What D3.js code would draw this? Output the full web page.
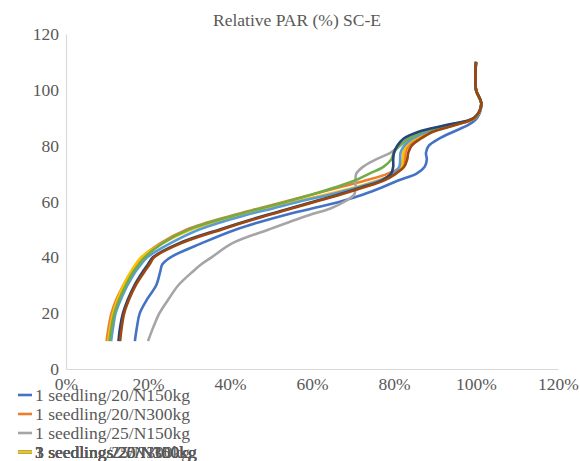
<!DOCTYPE html>
<html>
<head>
<meta charset="utf-8">
<script src="https://cdn.jsdelivr.net/npm/d3@7"></script>
<style>
  body { margin: 0; background: #fff; }
  svg text { font-family: "Liberation Serif", "DejaVu Serif", serif; fill: #595959; }
</style>
</head>
<body>
<div id="chart"></div>
<script>
// depth levels (y) shared by all series
var levels = [10, 15, 20, 25, 30, 35, 37.5, 40, 45, 50, 55, 57.5, 60, 62.5, 65, 67.5, 70, 72.5, 75, 77.5, 80, 82.5, 85, 87.5, 90, 95, 100, 110];

// relative PAR (%) for each series at those levels
var s1_20_150 = [16.8, 17.3, 18, 19.8, 22, 23, 23.5, 25.5, 33, 41.5, 53, 60, 67, 72.5, 77, 81, 85.5, 87.5, 88, 87.8, 88.5, 91, 94.5, 98.2, 100.3, 101.3, 100, 100];
var s1_20_300 = [9.9, 10.4, 11.1, 12.3, 14, 16, 17.2, 18.5, 23, 29.5, 40.5, 47, 53.5, 60, 66.5, 73, 78.5, 81.8, 82.6, 82.8, 83.5, 85.5, 89, 95, 99.8, 101.3, 100, 100];
var s1_25_150 = [20, 21.3, 22.8, 25, 27.4, 31, 33, 35.5, 40.5, 49.5, 59, 64.5, 68, 70.3, 70.6, 70.6, 70.8, 72.5, 75.5, 79.2, 81.5, 84, 88, 94.5, 99.8, 101.3, 100, 100];
var s1_25_300 = [10.3, 10.8, 11.5, 12.6, 14, 15.9, 17, 18.3, 23.5, 30.5, 42, 49, 56, 63.5, 70.5, 76, 80, 81.8, 82.1, 82.3, 83, 85, 88.5, 94.5, 99.8, 101.3, 100, 100];
var s3_20_150 = [11, 11.5, 12.1, 13.4, 15, 17, 18.3, 19.8, 25.4, 32.5, 43.5, 50.5, 57, 64.5, 71, 76.5, 80, 81.3, 81.5, 81.6, 82.5, 84.5, 88, 94, 99.7, 101.3, 100, 100];
var s3_20_300 = [10.6, 11.1, 11.8, 13, 14.6, 16.5, 17.8, 19.2, 23.5, 30, 41, 47.5, 54, 60, 65.5, 70.5, 74, 77.5, 79.3, 80, 81.3, 83.5, 87, 93.5, 99.7, 101.3, 100, 100];
var s3_25_150 = [12.8, 13.2, 13.9, 15.1, 16.7, 18.8, 20, 21.2, 27.5, 37.5, 48.5, 54.5, 60.5, 66.5, 72, 77, 79.3, 79.8, 79.8, 80, 80.8, 82.3, 86, 93, 99.5, 101.3, 100, 100];
var s3_25_300 = [13.2, 13.6, 14.2, 15.4, 17, 19.2, 20.4, 21.5, 28, 38, 49, 55, 61, 67, 72.5, 77.5, 80.5, 82.5, 83.2, 83.5, 84.3, 86.5, 89.5, 95.2, 99.6, 101.3, 100, 100];

var seriesNames = ["1 seedling/20/N150kg", "1 seedling/20/N300kg", "1 seedling/25/N150kg", "1 seedling/25/N300kg",
                   "3 seedlings/20/N150kg", "3 seedlings/20/N300kg", "3 seedlings/25/N150kg", "3 seedlings/25/N300kg"];
var seriesValues = [s1_20_150, s1_20_300, s1_25_150, s1_25_300, s3_20_150, s3_20_300, s3_25_150, s3_25_300];
var colors = ["#4472C4", "#ED7D31", "#A5A5A5", "#FFC000", "#5B9BD5", "#70AD47", "#264478", "#9E480E"];

var xTicks = [0, 20, 40, 60, 80, 100, 120];
var yTicks = [0, 20, 40, 60, 80, 100, 120];

var W = 580, H = 461;
var margin = {top: 34, right: 22, bottom: 92, left: 66};
var width = W - margin.left - margin.right,
    height = H - margin.top - margin.bottom;
var serif = "'Liberation Serif', 'DejaVu Serif', serif";

var svg = d3.select("#chart").append("svg")
  .attr("width", W).attr("height", H);

svg.append("text")
  .attr("x", 297).attr("y", 26)
  .attr("text-anchor", "middle")
  .style("font-family", serif)
  .style("font-size", "17.5px")
  .text("Relative PAR (%) SC-E");

var g = svg.append("g")
  .attr("transform", "translate(" + margin.left + "," + margin.top + ")");

var x = d3.scaleLinear().domain([0, 120]).range([0, width]);
var y = d3.scaleLinear().domain([0, 120]).range([height, 0]);

// axes
var xAxis = g.append("g")
  .attr("transform", "translate(0," + height + ")")
  .call(d3.axisBottom(x).tickValues(xTicks).tickSize(0).tickPadding(9)
    .tickFormat(function(d) { return d + "%"; }));
var yAxis = g.append("g")
  .call(d3.axisLeft(y).tickValues(yTicks).tickSize(0).tickPadding(7));

[xAxis, yAxis].forEach(function(a) {
  a.attr("font-family", null);
  a.select(".domain").attr("stroke", "#d9d9d9").attr("stroke-width", 1.2);
  a.selectAll("text").style("font-size", "17.5px").attr("fill", "#595959")
    .style("font-family", serif);
});

// lines
var line = d3.line()
  .curve(d3.curveCatmullRom.alpha(0.5))
  .x(function(d) { return x(d[0]); })
  .y(function(d) { return y(d[1]); });

seriesValues.forEach(function(vals, i) {
  var pts = vals.map(function(v, k) { return [v, levels[k]]; });
  g.append("path")
    .datum(pts)
    .attr("fill", "none")
    .attr("stroke", colors[i])
    .attr("stroke-width", 2.6)
    .attr("stroke-linejoin", "round")
    .attr("d", line);
});

// legend (squeezed: last rows pile up on the fourth line)
var rowY = [395, 414, 433, 452, 452, 452, 452, 452];
var legend = svg.append("g");
for (var i = seriesNames.length - 1; i >= 0; i--) {
  legend.append("line")
    .attr("x1", 18).attr("x2", 32)
    .attr("y1", rowY[i]).attr("y2", rowY[i])
    .attr("stroke", colors[i]).attr("stroke-width", 2.6);
  legend.append("text")
    .attr("x", 35).attr("y", rowY[i])
    .attr("dy", "0.35em")
    .style("font-family", serif)
    .style("font-size", "17.5px")
    .text(seriesNames[i]);
}
</script>
</body>
</html>
